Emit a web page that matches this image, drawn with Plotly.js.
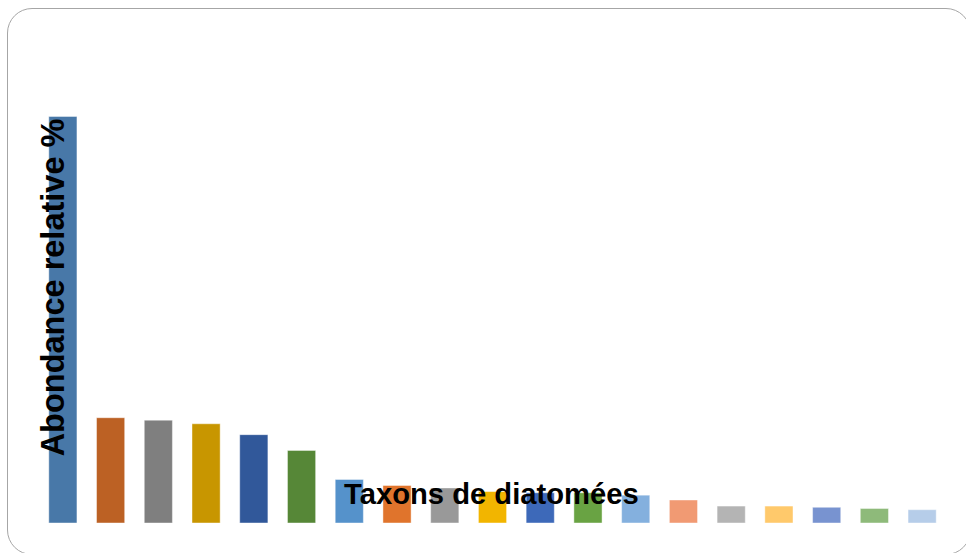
<!DOCTYPE html>
<html>
<head>
<meta charset="utf-8">
<script src="https://cdn.plot.ly/plotly-3.0.1.min.js"></script>
<style>
  html, body { margin: 0; padding: 0; background: #ffffff; overflow: hidden; }
  #wrap { position: relative; width: 966px; height: 553px; overflow: hidden; }
  #chart { position: absolute; left: 0; top: 0; width: 966px; height: 553px; }
  #frame {
    position: absolute; left: 7px; top: 7.5px; width: 962px; height: 545px;
    border: 1.5px solid #a6a6a6; border-radius: 25px; pointer-events: none;
  }
</style>
</head>
<body>
<div id="wrap">
  <div id="chart"></div>
  <div id="frame"></div>
</div>
<script>
// Taxa (names not shown in the reference), ranked by relative abundance
const categories = ["T1","T2","T3","T4","T5","T6","T7","T8","T9","T10",
                    "T11","T12","T13","T14","T15","T16","T17","T18","T19"];
// Relative abundance (%)
const abundance = [33.6, 8.7, 8.5, 8.2, 7.3, 6.0, 3.6, 3.1, 2.9, 2.6,
                   2.5, 2.5, 2.3, 1.9, 1.4, 1.4, 1.3, 1.2, 1.1];
const barColors = ["#4878A8","#BC6124","#7F7F7F","#C89600","#31589A","#568737",
                   "#5592CB","#E0742C","#999999","#F2B500","#3D69B9","#69A343",
                   "#84B0DE","#F19A73","#B4B4B4","#FFC96B","#7893D0","#8EBA7A","#B6CDE9"];
const yTitle = "Abondance relative %";
const xTitle = "Taxons de diatomées";

const trace = {
  type: "bar",
  x: categories,
  y: abundance,
  width: 0.59,
  marker: { color: barColors, line: { color: "rgba(255,255,255,0.55)", width: 0.8 } },
  hoverinfo: "x+y"
};

const layout = {
  width: 966, height: 553,
  margin: { l: 38.6, r: 20, t: 39, b: 29.5, pad: 0 },
  paper_bgcolor: "rgba(0,0,0,0)",
  plot_bgcolor: "rgba(0,0,0,0)",
  showlegend: false,
  bargap: 0.41,
  xaxis: { type: "category", range: [-0.5, 18.5], showticklabels: false, ticks: "",
           showgrid: false, zeroline: false, showline: false, fixedrange: true },
  yaxis: { range: [0, 40], showticklabels: false, ticks: "", showgrid: false,
           zeroline: false, showline: false, fixedrange: true },
  annotations: [
    { text: "<b>" + yTitle + "</b>", textangle: -90, xref: "paper", yref: "paper",
      x: 0.0155, y: 0.487, xanchor: "center", yanchor: "middle", showarrow: false,
      font: { family: "Liberation Sans, Arial, sans-serif", size: 32.5, color: "#000000" } },
    { text: "<b>" + xTitle + "</b>", xref: "paper", yref: "paper",
      x: 0.4985, y: 0.059, xanchor: "center", yanchor: "middle", showarrow: false,
      font: { family: "Liberation Sans, Arial, sans-serif", size: 29.2, color: "#000000" } }
  ]
};

Plotly.newPlot("chart", [trace], layout, { displayModeBar: false, staticPlot: true });
</script>
</body>
</html>
